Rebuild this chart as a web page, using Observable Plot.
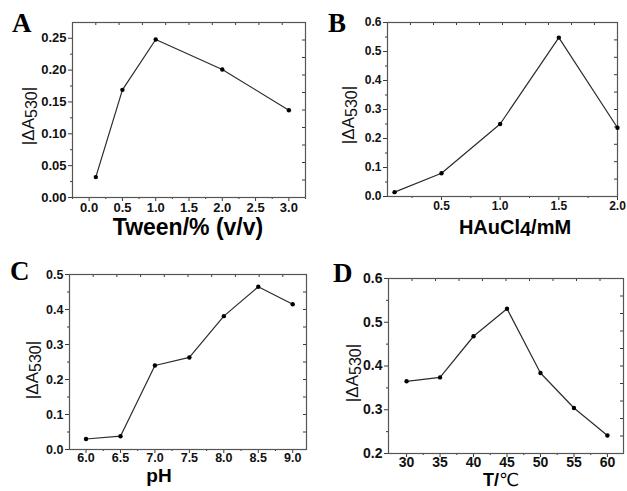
<!DOCTYPE html>
<html>
<head>
<meta charset="utf-8">
<script src="https://cdn.jsdelivr.net/npm/d3@7"></script>
<script src="https://cdn.jsdelivr.net/npm/@observablehq/plot@0.6"></script>
<style>
  html, body { margin: 0; padding: 0; background: #fff; }
  #wrap { position: relative; width: 627px; height: 491px; overflow: hidden; }
  .panel { position: absolute; }
</style>
</head>
<body>
<div id="wrap"></div>
<script>
// ---------- data ----------
const tween = [0.1, 0.5, 1.0, 2.0, 3.0];
const tweenA = [0.032, 0.169, 0.248, 0.201, 0.137];

const haucl4 = [0.1, 0.5, 1.0, 1.5, 2.0];
const haucl4A = [0.015, 0.080, 0.250, 0.548, 0.237];

const pH = [6.0, 6.5, 7.0, 7.5, 8.0, 8.5, 9.0];
const pHA = [0.030, 0.038, 0.240, 0.263, 0.381, 0.465, 0.415];

const temp = [30, 35, 40, 45, 50, 55, 60];
const tempA = [0.365, 0.374, 0.468, 0.531, 0.384, 0.304, 0.241];

// tick labels / tick values
const aXTicks = [0.0, 0.5, 1.0, 1.5, 2.0, 2.5, 3.0];
const aXMinor = [-0.25, 0.25, 0.75, 1.25, 1.75, 2.25, 2.75, 3.25];
const aYTicks = [0.00, 0.05, 0.10, 0.15, 0.20, 0.25];
const aYMinor = [0.025, 0.075, 0.125, 0.175, 0.225];

const bXTicks = [0.5, 1.0, 1.5, 2.0];
const bXMinor = [0.25, 0.75, 1.25, 1.75];
const bYTicks = [0.0, 0.1, 0.2, 0.3, 0.4, 0.5, 0.6];
const bYMinor = [0.05, 0.15, 0.25, 0.35, 0.45, 0.55];

const cXTicks = [6.0, 6.5, 7.0, 7.5, 8.0, 8.5, 9.0];
const cXMinor = [6.25, 6.75, 7.25, 7.75, 8.25, 8.75];
const cYTicks = [0.0, 0.1, 0.2, 0.3, 0.4, 0.5];
const cYMinor = [0.05, 0.15, 0.25, 0.35, 0.45];

const dXTicks = [30, 35, 40, 45, 50, 55, 60];
const dXMinor = [32.5, 37.5, 42.5, 47.5, 52.5, 57.5];
const dYTicks = [0.2, 0.3, 0.4, 0.5, 0.6];
const dYMinor = [0.25, 0.35, 0.45, 0.55];

const xTitles = ["Tween/% (v/v)", "HAuCl4/mM", "pH", "T/℃"];
const panelLetters = ["A", "B", "C", "D"];

// ---------- drawing ----------
const FONT = "Liberation Sans, Arial, Helvetica, sans-serif";
const INK = "#3a3a3a";

function makePanel(cfg) {
  const innerW = cfg.width - cfg.ml - cfg.mr;
  const innerH = cfg.height - cfg.mt - cfg.mb;
  const [x0, x1] = cfg.xDomain, [y0, y1] = cfg.yDomain;
  const topTicks = d3.range(1, 10).map(k => x0 + k * (x1 - x0) / 10);
  const rightTicks = d3.range(1, 10).map(k => y0 + k * (y1 - y0) / 10);
  const rows = cfg.xs.map((x, i) => ({x, y: cfg.ys[i]}));
  const svg = Plot.plot({
    width: cfg.width, height: cfg.height,
    marginLeft: cfg.ml, marginRight: cfg.mr, marginTop: cfg.mt, marginBottom: cfg.mb,
    style: {fontFamily: FONT, fontSize: cfg.fs + "px", color: "#000", background: "transparent", overflow: "visible"},
    x: {domain: cfg.xDomain},
    y: {domain: cfg.yDomain},
    marks: [
      Plot.axisX(cfg.xTicks, {anchor: "bottom", tickSize: 4, tickPadding: cfg.xPad, tickFormat: d3.format(cfg.xFmt),
        label: null, stroke: INK}),
      Plot.axisX(cfg.xMinor, {anchor: "bottom", tickSize: 2, tickFormat: () => "", label: null, stroke: INK}),
      Plot.axisY(cfg.yTicks, {anchor: "left", tickSize: 4, tickPadding: 2, tickFormat: d3.format(cfg.yFmt),
        label: null, stroke: INK}),
      Plot.axisY(cfg.yMinor, {anchor: "left", tickSize: 2, tickFormat: () => "", label: null, stroke: INK}),
      Plot.tickX(topTicks, {x: d => d, insetBottom: innerH - 3, stroke: INK}),
      Plot.tickY(rightTicks, {y: d => d, insetLeft: innerW - 3, stroke: INK}),
      Plot.frame({stroke: "#555", strokeWidth: 1.2}),
      Plot.line(rows, {x: "x", y: "y", stroke: "#2b2b2b", strokeWidth: 1.2}),
      Plot.dot(rows, {x: "x", y: "y", r: 2.2, fill: "#000", stroke: "none"})
    ]
  });
  const s = d3.select(svg);
  s.selectAll('g[aria-label$="tick label"] text')
    .style("font-size", cfg.fs + "px").style("font-weight", "bold").style("fill", "#111");
  // panel letter
  s.append("text").attr("x", cfg.letter[0]).attr("y", cfg.letter[1]).attr("text-anchor", "start")
    .attr("font-family", "Liberation Serif, Times New Roman, serif").attr("font-weight", "bold")
    .attr("font-size", 27).attr("fill", "#000").text(cfg.letterText);
  // y label |ΔA530|
  const yl = s.append("text")
    .attr("transform", `translate(${cfg.ylab[0]},${cfg.ylab[1]}) rotate(-90)`)
    .attr("text-anchor", "middle").attr("font-family", FONT).attr("font-size", 17).attr("fill", "#111");
  yl.append("tspan").text("|ΔA");
  yl.append("tspan").attr("dy", 3).attr("font-size", 16).text("530");
  yl.append("tspan").attr("dy", -3).text("|");
  // x title
  const xt = s.append("text").attr("x", cfg.xlab[0]).attr("y", cfg.xlab[1])
    .attr("text-anchor", "middle").attr("font-family", FONT).attr("font-weight", "bold")
    .attr("font-size", cfg.xlabFs).attr("fill", "#000");
  cfg.xlabBuild(xt);
  const div = document.createElement("div");
  div.className = "panel";
  div.style.left = cfg.left + "px";
  div.style.top = cfg.top + "px";
  div.appendChild(svg);
  document.getElementById("wrap").appendChild(div);
}

makePanel({
  left: 0, top: 0, width: 313, height: 245, ml: 72, mr: 8, mt: 22, mb: 48, fs: 13, xPad: 1,
  xs: tween, ys: tweenA, xDomain: [-0.25, 3.25], yDomain: [0, 0.2747],
  xTicks: aXTicks, xMinor: aXMinor, yTicks: aYTicks, yMinor: aYMinor, xFmt: ".1f", yFmt: ".2f",
  letter: [12, 32], letterText: panelLetters[0], ylab: [34, 116], xlab: [188, 235], xlabFs: 23,
  xlabBuild: t => t.text(xTitles[0])
});

makePanel({
  left: 313, top: 0, width: 314, height: 245, ml: 74, mr: 10, mt: 22, mb: 49, fs: 12, xPad: 1,
  xs: haucl4, ys: haucl4A, xDomain: [0.04, 2.0], yDomain: [0, 0.6],
  xTicks: bXTicks, xMinor: bXMinor, yTicks: bYTicks, yMinor: bYMinor, xFmt: ".1f", yFmt: ".1f",
  letter: [15, 32], letterText: panelLetters[1], ylab: [41, 115], xlab: [202, 234], xlabFs: 20,
  xlabBuild: t => { t.append("tspan").text("HAuCl"); t.append("tspan").attr("dy", 2).text("4"); t.append("tspan").attr("dy", -2).text("/mM"); }
});

makePanel({
  left: 0, top: 245, width: 313, height: 246, ml: 69, mr: 7, mt: 29, mb: 42, fs: 12.5, xPad: 0,
  xs: pH, ys: pHA, xDomain: [5.76, 9.2], yDomain: [0, 0.5],
  xTicks: cXTicks, xMinor: cXMinor, yTicks: cYTicks, yMinor: cYMinor, xFmt: ".1f", yFmt: ".1f",
  letter: [10, 35], letterText: panelLetters[2], ylab: [38, 125], xlab: [159, 237], xlabFs: 19,
  xlabBuild: t => t.text(xTitles[2])
});

makePanel({
  left: 313, top: 245, width: 314, height: 246, ml: 75, mr: 4, mt: 33, mb: 38, fs: 14, xPad: 0,
  xs: temp, ys: tempA, xDomain: [27.3, 62.4], yDomain: [0.2, 0.6],
  xTicks: dXTicks, xMinor: dXMinor, yTicks: dYTicks, yMinor: dYMinor, xFmt: "d", yFmt: ".1f",
  letter: [20, 37], letterText: panelLetters[3], ylab: [45, 128], xlab: [188, 241], xlabFs: 18,
  xlabBuild: t => { t.append("tspan").text("T/"); t.append("tspan").attr("font-weight", "normal").attr("font-family", "DejaVu Sans, Noto Sans CJK SC, sans-serif").text("℃"); }
});
</script>
</body>
</html>
